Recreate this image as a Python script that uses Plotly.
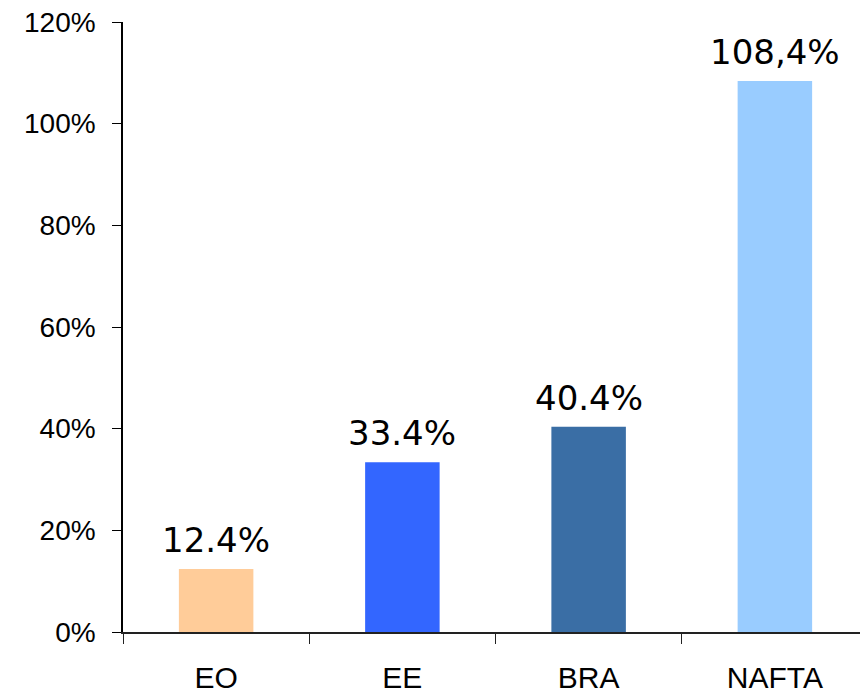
import plotly.graph_objects as go

categories = ["EO", "EE", "BRA", "NAFTA"]
values = [12.4, 33.4, 40.4, 108.4]
value_labels = ["12.4%", "33.4%", "40.4%", "108,4%"]
colors = ["#FFCC99", "#3366FF", "#3A6EA5", "#99CCFF"]
y_ticks = [0, 20, 40, 60, 80, 100, 120]
y_tick_labels = ["0%", "20%", "40%", "60%", "80%", "100%", "120%"]

fig = go.Figure()
fig.add_trace(go.Bar(
    x=categories, y=values, marker=dict(color=colors, line=dict(width=0)),
    width=0.4, showlegend=False, hoverinfo="skip",
))
for c, v, t in zip(categories, values, value_labels):
    fig.add_annotation(x=c, y=v, text=t, showarrow=False, yanchor="bottom",
                       yshift=7, font=dict(family="DejaVu Sans", size=34, color="#000000"))

fig.update_layout(
    template="none",
    width=860, height=685,
    margin=dict(l=115, r=0, t=14, b=61, autoexpand=False),
    paper_bgcolor="white", plot_bgcolor="white",
    bargap=0.6,
    xaxis=dict(
        type="category", showline=True, linecolor="#222222", linewidth=2,
        ticks="outside", tickson="boundaries", ticklen=10, tickcolor="#222222", tickwidth=1,
        tickfont=dict(family="Liberation Sans", size=30, color="#000000"),
        ticklabelstandoff=18, automargin=False,
        showgrid=False, zeroline=False,
    ),
    yaxis=dict(
        range=[0, 120], tickvals=y_ticks, ticktext=y_tick_labels,
        showline=True, linecolor="#000000", linewidth=1.5,
        ticks="outside", ticklen=9, tickcolor="#000000", tickwidth=1,
        tickfont=dict(family="Liberation Sans", size=28, color="#000000"),
        ticklabelstandoff=11, ticklabeloverflow="allow", automargin=False,
        showgrid=False, zeroline=False,
    ),
)
fig.write_html("out.html")
